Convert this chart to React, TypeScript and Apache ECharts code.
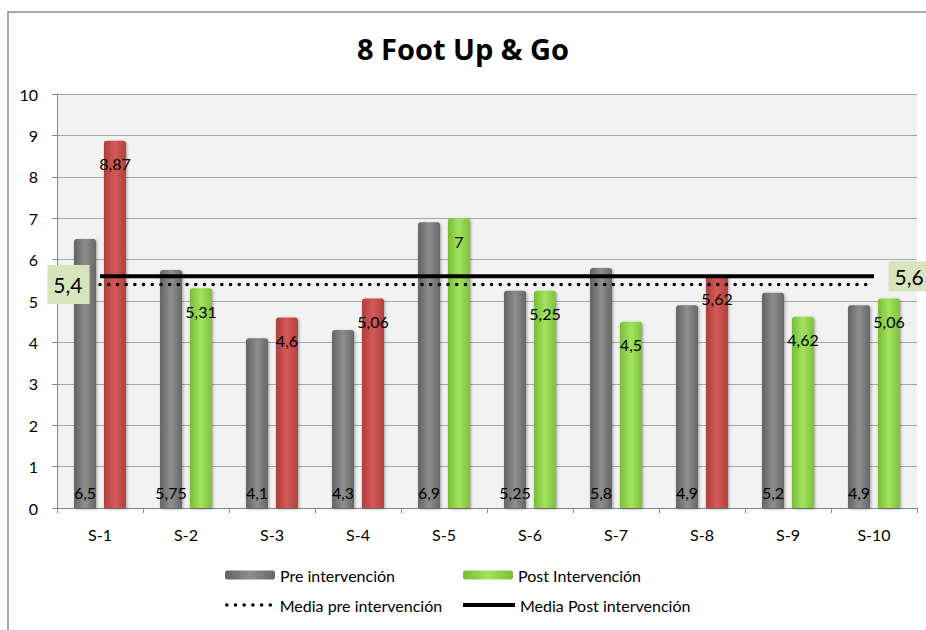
import React, { useEffect, useRef } from "react";
import * as echarts from "echarts";

const categories = ["S-1", "S-2", "S-3", "S-4", "S-5", "S-6", "S-7", "S-8", "S-9", "S-10"];
const preValues = [6.5, 5.75, 4.1, 4.3, 6.9, 5.25, 5.8, 4.9, 5.2, 4.9];
const postValues = [8.87, 5.31, 4.6, 5.06, 7, 5.25, 4.5, 5.62, 4.62, 5.06];
const postRed = [true, false, true, true, false, false, false, true, false, false];
const mediaPre = 5.4;
const mediaPost = 5.6;
const yTicks = { min: 0, max: 10, interval: 1 };

const FONT = "Lato, 'Open Sans', sans-serif";
const FS = 16;

const grad = (a: string, b: string, c: string) =>
  new echarts.graphic.LinearGradient(0, 0, 1, 0, [
    { offset: 0, color: a },
    { offset: 0.5, color: b },
    { offset: 1, color: c },
  ]);

const fmt = (v: number) => String(v).replace(".", ",");

export default function App() {
  const ref = useRef<HTMLDivElement>(null);
  useEffect(() => {
    document.body.style.margin = "0";
    if (!ref.current) return;
    const chart = echarts.init(ref.current, null, { renderer: "svg" });
    const gray = grad("#626262", "#8e8e8e", "#666666");
    const red = grad("#ab3e3b", "#d65a57", "#ae403d");
    const green = grad("#78bc36", "#a3e35f", "#7cc03a");
    const legendText = { fontFamily: FONT, fontSize: FS, color: "#000" };
    const boxLabel = {
      show: true,
      fontSize: 21,
      fontFamily: FONT,
      color: "#000",
      backgroundColor: "#d7e4bd",
    };
    const barBase = {
      borderRadius: [3, 3, 0, 0],
      shadowBlur: 3,
      shadowColor: "rgba(0,0,0,0.35)",
      shadowOffsetX: 1,
      shadowOffsetY: 1,
    };
    chart.setOption({
      animation: false,
      textStyle: { fontFamily: FONT },
      title: {
        text: "8 Foot Up & Go",
        left: "center",
        top: 29,
        textStyle: { fontFamily: "'Open Sans', Lato, sans-serif", fontSize: 29, fontWeight: "bold", color: "#000" },
      },
      graphic: [
        {
          type: "rect",
          shape: { x: 8, y: 12, width: 1000, height: 1000 },
          style: { fill: "none", stroke: "#8c8c8c", lineWidth: 1.5 },
          silent: true,
        },
      ],
      grid: {
        left: 57,
        right: 9,
        top: 94,
        bottom: 122,
        show: true,
        backgroundColor: "#f2f2f2",
        borderWidth: 0,
      },
      legend: [
        {
          data: ["Pre intervención"],
          left: 220,
          top: 562,
          itemWidth: 50,
          itemHeight: 9,
          textStyle: legendText,
        },
        {
          data: ["Post Intervención"],
          left: 458,
          top: 562,
          itemWidth: 50,
          itemHeight: 9,
          textStyle: legendText,
        },
        {
          data: ["Media pre intervención"],
          left: 220,
          top: 592,
          itemWidth: 48,
          itemHeight: 14,
          lineStyle: { width: 3.5 },
          textStyle: legendText,
        },
        {
          data: ["Media Post intervención"],
          left: 456,
          top: 592,
          itemWidth: 52,
          itemHeight: 14,
          lineStyle: { width: 4 },
          textStyle: legendText,
        },
      ],
      xAxis: {
        type: "category",
        data: categories,
        axisLine: { lineStyle: { color: "#868686", width: 1 } },
        axisTick: { show: true, length: 5, lineStyle: { color: "#868686" } },
        axisLabel: { color: "#000", fontSize: FS, fontFamily: FONT, margin: 18 },
      },
      yAxis: {
        type: "value",
        min: yTicks.min,
        max: yTicks.max,
        interval: yTicks.interval,
        axisLine: { show: true, lineStyle: { color: "#868686", width: 1 } },
        axisTick: { show: true, length: 5, lineStyle: { color: "#868686" } },
        axisLabel: { color: "#000", fontSize: FS, fontFamily: FONT, margin: 19 },
        splitLine: { lineStyle: { color: "#a6a6a6", width: 1 } },
      },
      series: [
        {
          name: "Pre intervención",
          type: "bar",
          data: preValues,
          barWidth: 22,
          barGap: "36%",
          itemStyle: { color: gray, ...barBase },
          label: {
            show: true,
            position: "insideBottom",
            distance: 8,
            color: "#000",
            fontSize: FS,
            fontFamily: FONT,
            formatter: (p: any) => fmt(p.value),
          },
        },
        {
          name: "Post Intervención",
          type: "bar",
          data: postValues.map((v, i) => ({
            value: v,
            itemStyle: { color: postRed[i] ? red : green },
          })),
          barWidth: 22,
          itemStyle: { color: green, ...barBase },
          label: {
            show: true,
            position: "insideTop",
            distance: 15,
            color: "#000",
            fontSize: FS,
            fontFamily: FONT,
            formatter: (p: any) => fmt(p.value),
          },
        },
        {
          name: "Media pre intervención",
          type: "line",
          symbol: "circle",
          symbolSize: 1,
          showSymbol: true,
          z: 5,
          lineStyle: { color: "#000", width: 3.5, type: [0.1, 8.6], cap: "round" },
          itemStyle: { color: "rgba(0,0,0,0)" },
          label: { show: false },
          data: categories.map((_, i) =>
            i === 0
              ? {
                  value: mediaPre,
                  label: {
                    ...boxLabel,
                    position: "left",
                    distance: 10,
                    formatter: fmt(mediaPre),
                    padding: [10, 7, 8, 6],
                  },
                }
              : mediaPre
          ),
        },
        {
          name: "Media Post intervención",
          type: "line",
          symbol: "circle",
          symbolSize: 1,
          showSymbol: true,
          z: 6,
          lineStyle: { color: "#000", width: 4 },
          itemStyle: { color: "rgba(0,0,0,0)" },
          label: { show: false },
          data: categories.map((_, i) =>
            i === categories.length - 1
              ? {
                  value: mediaPost,
                  label: {
                    ...boxLabel,
                    position: "right",
                    distance: 14,
                    formatter: fmt(mediaPost),
                    padding: [5, 7, 4, 6],
                  },
                }
              : mediaPost
          ),
        },
      ],
    });
    return () => chart.dispose();
  }, []);
  return <div ref={ref} style={{ width: 926, height: 630, overflow: "hidden" }} />;
}
